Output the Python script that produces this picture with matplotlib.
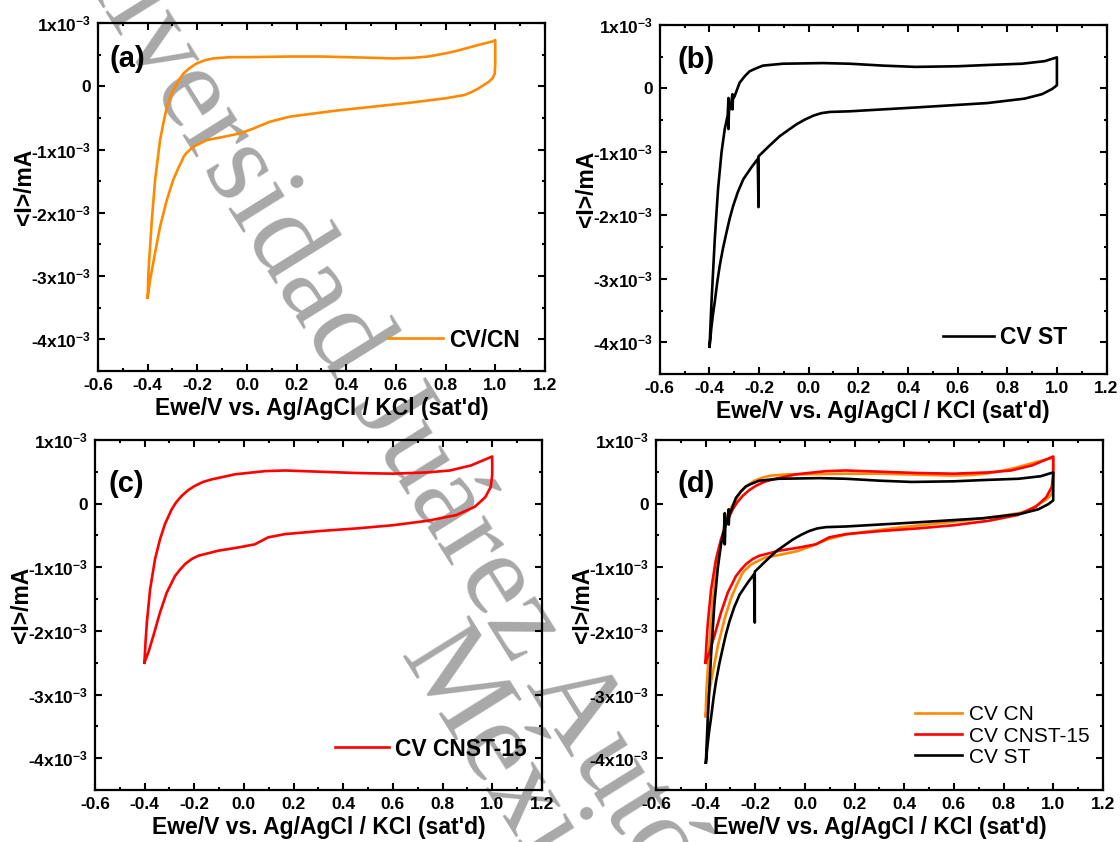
import matplotlib
matplotlib.use("Agg")
import matplotlib.pyplot as plt
from matplotlib.ticker import MultipleLocator, FuncFormatter

plt.rcParams['font.family'] = ['Liberation Sans', 'DejaVu Sans']
plt.rcParams['mathtext.fontset'] = 'custom'
plt.rcParams['mathtext.rm'] = 'Liberation Sans:bold'
plt.rcParams['mathtext.bf'] = 'Liberation Sans:bold'
plt.rcParams['mathtext.it'] = 'Liberation Sans:bold'
plt.rcParams['mathtext.default'] = 'rm'

# CV loops: potential (V vs Ag/AgCl) and current (x1e-3 mA)
CN_E = [-0.400, -0.397, -0.384, -0.370, -0.350, -0.337, -0.323, -0.310, -0.297, -0.276,
        -0.256, -0.230, -0.203, -0.170, -0.136, -0.068, 0.000, 0.173, 0.300, 0.400,
        0.500, 0.590, 0.670, 0.730, 0.800, 0.845, 0.930, 0.990, 1.000, 1.000,
        0.998, 0.990, 0.974, 0.950, 0.930, 0.900, 0.874, 0.800, 0.657, 0.514,
        0.370, 0.250, 0.173, 0.093, 0.025, -0.028, -0.095, -0.162, -0.216, -0.245,
        -0.256, -0.262, -0.275, -0.297, -0.323, -0.350, -0.370, -0.390, -0.400]
CN_I = [-3.34, -2.95, -2.16, -1.48, -0.85, -0.59, -0.33, -0.18, -0.06, 0.08,
        0.20, 0.29, 0.36, 0.41, 0.44, 0.46, 0.46, 0.47, 0.47, 0.46,
        0.45, 0.44, 0.45, 0.47, 0.52, 0.56, 0.65, 0.71, 0.73, 0.35,
        0.20, 0.13, 0.07, 0.01, -0.04, -0.10, -0.14, -0.19, -0.26, -0.32,
        -0.38, -0.44, -0.48, -0.56, -0.67, -0.745, -0.80, -0.85, -0.955, -1.06,
        -1.12, -1.18, -1.28, -1.48, -1.80, -2.22, -2.63, -3.06, -3.34]

ST_E = [-0.399, -0.392, -0.378, -0.365, -0.351, -0.338, -0.326, -0.323, -0.323, -0.321,
        -0.312, -0.307, -0.307, -0.305, -0.298, -0.278, -0.258, -0.238, -0.210, -0.184,
        -0.104, 0.058, 0.165, 0.300, 0.430, 0.600, 0.720, 0.860, 0.950, 1.000,
        1.000, 0.980, 0.940, 0.870, 0.720, 0.430, 0.165, 0.085, 0.050, 0.018,
        -0.015, -0.049, -0.080, -0.116, -0.160, -0.202, -0.202, -0.205, -0.230, -0.263,
        -0.285, -0.304, -0.318, -0.331, -0.345, -0.358, -0.368, -0.378, -0.386, -0.392,
        -0.399]
ST_I = [-4.07, -3.42, -2.37, -1.59, -1.01, -0.64, -0.42, -0.15, -0.64, -0.36,
        -0.24, -0.09, -0.33, -0.17, -0.12, 0.09, 0.19, 0.27, 0.32, 0.36,
        0.39, 0.40, 0.39, 0.36, 0.34, 0.35, 0.37, 0.39, 0.43, 0.49,
        0.05, -0.01, -0.09, -0.16, -0.23, -0.30, -0.36, -0.37, -0.39, -0.43,
        -0.49, -0.565, -0.65, -0.75, -0.91, -1.07, -1.87, -1.11, -1.24, -1.43,
        -1.63, -1.85, -2.05, -2.27, -2.52, -2.79, -3.05, -3.36, -3.58, -3.78,
        -4.07]

CNST_E = [-0.401, -0.396, -0.391, -0.378, -0.358, -0.338, -0.318, -0.291, -0.273, -0.251,
          -0.225, -0.197, -0.165, -0.130, -0.036, 0.085, 0.165, 0.310, 0.455, 0.600,
          0.740, 0.830, 0.915, 1.000, 1.000, 0.994, 0.972, 0.930, 0.856, 0.740,
          0.600, 0.455, 0.310, 0.165, 0.098, 0.044, -0.023, -0.103, -0.184, -0.210,
          -0.237, -0.258, -0.278, -0.311, -0.338, -0.365, -0.385, -0.401]
CNST_I = [-2.50, -2.15, -1.87, -1.35, -0.87, -0.56, -0.32, -0.09, 0.02, 0.12,
          0.21, 0.28, 0.34, 0.38, 0.46, 0.51, 0.52, 0.50, 0.48, 0.47,
          0.49, 0.52, 0.60, 0.74, 0.45, 0.26, 0.10, -0.05, -0.18, -0.27,
          -0.34, -0.39, -0.43, -0.48, -0.53, -0.64, -0.69, -0.74, -0.82, -0.87,
          -0.95, -1.04, -1.14, -1.40, -1.71, -2.08, -2.34, -2.50]

C_CN, C_CNST, C_ST = '#ff8a00', '#ff0000', '#000000'
XLABEL = "Ewe/V vs. Ag/AgCl / KCl (sat'd)"
YLABEL = "<I>/mA"


def ytick_fmt(v, pos):
    n = int(round(v * 1e3))
    return "0" if n == 0 else f"{n}x10$^{{-3}}$"


def style(ax, tag, tag_xy):
    ax.set_facecolor('none')
    ax.set_xlim(-0.6, 1.2)
    ax.set_ylim(-4.5e-3, 1e-3)
    ax.xaxis.set_major_locator(MultipleLocator(0.2))
    ax.xaxis.set_minor_locator(MultipleLocator(0.1))
    ax.yaxis.set_major_locator(MultipleLocator(1e-3))
    ax.yaxis.set_minor_locator(MultipleLocator(0.5e-3))
    ax.xaxis.set_major_formatter(FuncFormatter(lambda v, p: f"{round(v, 1):.1f}"))
    ax.yaxis.set_major_formatter(FuncFormatter(ytick_fmt))
    ax.tick_params(which='both', direction='in', top=True, right=True, width=1.5)
    ax.tick_params(which='major', length=5, labelsize=12.5, pad=5)
    ax.tick_params(which='minor', length=2.5)
    for lab in ax.get_xticklabels() + ax.get_yticklabels():
        lab.set_fontweight('bold')
    for s in ax.spines.values():
        s.set_linewidth(1.6)
    ax.set_xlabel(XLABEL, fontsize=16.5, fontweight='bold', labelpad=3)
    ax.set_ylabel(YLABEL, fontsize=16.5, fontweight='bold')
    ax.yaxis.set_label_coords(-0.138, 0.53)
    ax.text(tag_xy[0], tag_xy[1], tag, transform=ax.transAxes, fontsize=21,
            fontweight='bold', ha='left', va='center')


def cur(v):
    return [i * 1e-3 for i in v]


fig = plt.figure(figsize=(11.2, 8.42), dpi=100)
ax_a = fig.add_axes([0.0875, 0.5594, 0.399, 0.4133])
ax_b = fig.add_axes([0.589, 0.5558, 0.399, 0.4145])
ax_c = fig.add_axes([0.0848, 0.0618, 0.399, 0.4157])
ax_d = fig.add_axes([0.5857, 0.0618, 0.399, 0.4157])

lw = 1.9
ax_a.plot(CN_E, cur(CN_I), color=C_CN, lw=lw, label='CV/CN')
ax_b.plot(ST_E, cur(ST_I), color=C_ST, lw=lw, label='CV ST')
ax_c.plot(CNST_E, cur(CNST_I), color=C_CNST, lw=lw, label='CV CNST-15')
ax_d.plot(CN_E, cur(CN_I), color=C_CN, lw=lw, label='CV CN')
ax_d.plot(CNST_E, cur(CNST_I), color=C_CNST, lw=lw, label='CV CNST-15')
ax_d.plot(ST_E, cur(ST_I), color=C_ST, lw=lw, label='CV ST')

style(ax_a, '(a)', (0.025, 0.897))
style(ax_b, '(b)', (0.040, 0.900))
style(ax_c, '(c)', (0.031, 0.874))
style(ax_d, '(d)', (0.049, 0.874))

bold = {'weight': 'bold', 'size': 16.5}
for ax, pos, hl in [(ax_a, (0.649, 0.089), 2.4), (ax_b, (0.633, 0.106), 2.25),
                    (ax_c, (0.537, 0.117), 2.35)]:
    ax.legend(loc='center left', bbox_to_anchor=pos, frameon=False, borderpad=0,
              borderaxespad=0, handlelength=hl, handletextpad=0.25, prop=bold)
ax_d.legend(loc='center left', bbox_to_anchor=(0.579, 0.154), frameon=False, borderpad=0,
            borderaxespad=0, handlelength=2.26, handletextpad=0.35, labelspacing=0.1,
            prop={'size': 15})

# watermark behind the plots
wm = dict(fontsize=86, family=['Liberation Serif', 'DejaVu Serif'], color='#a8a8a8',
          rotation=-58, rotation_mode='anchor', ha='left', va='baseline', zorder=-1)
fig.text(0.0232, 1.1361, "Universidad Juárez Autónoma de Tabasco", **wm)
fig.text(0.3558, 0.221, "México", **wm)

fig.savefig("out.png", dpi=100)
